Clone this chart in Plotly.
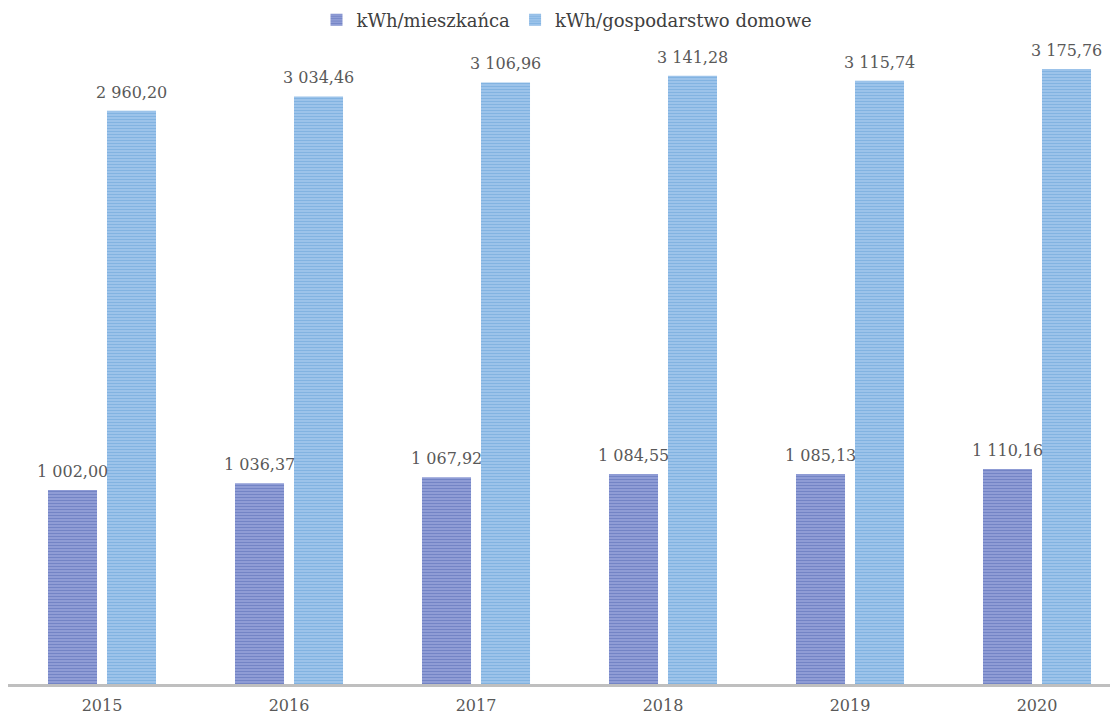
import plotly.graph_objects as go

years = ["2015", "2016", "2017", "2018", "2019", "2020"]
per_person = [1002.00, 1036.37, 1067.92, 1084.55, 1085.13, 1110.16]
per_household = [2960.20, 3034.46, 3106.96, 3141.28, 3115.74, 3175.76]
series_names = ["kWh/mieszkańca", "kWh/gospodarstwo domowe"]


def fmt(v):
    s = f"{v:,.2f}"
    return s.replace(",", " ").replace(".", ",")


FONT = "DejaVu Serif"
fig = go.Figure()
fig.add_trace(go.Bar(
    x=years, y=per_person, name=series_names[0],
    marker=dict(color="#7b8acb", line=dict(width=0),
                pattern=dict(shape="-", fgcolor="#4b62b0", bgcolor="#9ba7db",
                             size=3, solidity=0.55)),
))
fig.add_trace(go.Bar(
    x=years, y=per_household, name=series_names[1],
    marker=dict(color="#8cb9e4", line=dict(width=0),
                pattern=dict(shape="-", fgcolor="#5b9bd5", bgcolor="#a8cbed",
                             size=3, solidity=0.55)),
))

annotations = []
for i, (a, b) in enumerate(zip(per_person, per_household)):
    for off, v in ((-0.158, a), (0.158, b)):
        annotations.append(dict(
            x=i + off, y=v, xref="x", yref="y", text=fmt(v), showarrow=False,
            yanchor="bottom", yshift=7,
            font=dict(family=FONT, size=16, color="#595959")))

fig.update_layout(
    width=1118, height=715,
    margin=dict(l=0, r=0, t=32, b=39, autoexpand=False),
    paper_bgcolor="white", plot_bgcolor="white",
    barmode="group", bargap=0.369, bargroupgap=0.169,
    separators=", ",
    annotations=annotations,
    legend=dict(orientation="h", x=0.5, xanchor="center",
                yref="container", y=0.983, yanchor="middle",
                font=dict(family=FONT, size=18, color="#404040"),
                itemwidth=30, traceorder="normal"),
    xaxis=dict(type="category", range=[-0.5027, 5.4759], showgrid=False,
               showline=True, linecolor="#bfbfbf", linewidth=2.5,
               ticks="", ticklabelstandoff=5,
               tickfont=dict(family=FONT, size=16, color="#595959")),
    yaxis=dict(range=[0, 3326], visible=False, showgrid=False, zeroline=False),
)

fig.write_html("out.html")
